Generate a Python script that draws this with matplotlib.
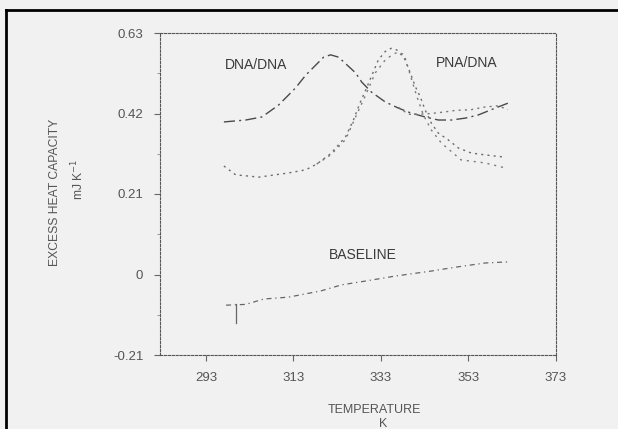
import matplotlib.pyplot as plt
from matplotlib.lines import Line2D

# temperature (K) and excess heat capacity (mJ/K)
DNA_T = [297.1, 302.1, 305.8, 309.6, 313.5, 315.8, 319.9, 321.5, 323.3, 327.2,
         328.6, 330.8, 334.0, 337.0, 339.9, 343.1, 346.1, 349.1, 352.3, 355.2,
         359.1, 362.7]
DNA_CP = [0.398, 0.403, 0.411, 0.442, 0.487, 0.520, 0.567, 0.573, 0.567, 0.526,
          0.502, 0.476, 0.450, 0.434, 0.421, 0.411, 0.403, 0.403, 0.408, 0.416,
          0.434, 0.450]

PNA_A_T = [297.1, 299.8, 305.1, 311.9, 315.8, 318.3, 321.5, 324.9, 326.7, 328.3,
           329.5, 332.4, 334.0, 335.3, 336.6, 338.3, 339.7, 340.9, 342.0, 343.1,
           344.5, 346.1, 348.4, 350.7, 353.6, 356.8, 361.4]
PNA_A_CP = [0.283, 0.260, 0.254, 0.265, 0.273, 0.288, 0.315, 0.359, 0.403, 0.450,
            0.481, 0.560, 0.582, 0.590, 0.586, 0.565, 0.526, 0.489, 0.463, 0.429,
            0.395, 0.369, 0.351, 0.330, 0.317, 0.312, 0.306]

PNA_B_T = [318.3, 321.5, 324.9, 327.4, 329.5, 331.7, 334.0, 335.8, 336.9, 338.3,
           339.7, 341.1, 342.7, 344.5, 346.8, 351.3, 356.8, 361.4]
PNA_B_CP = [0.288, 0.312, 0.352, 0.416, 0.468, 0.526, 0.560, 0.575, 0.580, 0.574,
            0.520, 0.468, 0.416, 0.377, 0.343, 0.299, 0.291, 0.278]

TAIL_T = [337.0, 339.3, 341.5, 344.5, 347.5, 350.0, 353.6, 356.8, 359.8, 362.0]
TAIL_CP = [0.436, 0.418, 0.418, 0.420, 0.424, 0.428, 0.430, 0.437, 0.440, 0.430]

BASE_T = [297.6, 302.1, 306.2, 311.9, 319.2, 324.0, 329.5, 336.3, 344.5, 350.0,
          356.8, 362.1]
BASE_CP = [-0.080, -0.078, -0.064, -0.059, -0.043, -0.027, -0.017, -0.004, 0.009,
           0.019, 0.030, 0.033]

BAR_T = [299.8, 299.8]
BAR_CP = [-0.078, -0.127]

X_TICKS = [293, 313, 333, 353, 373]
Y_TICKS = [-0.21, 0, 0.21, 0.42, 0.63]
Y_TICK_LABELS = ["-0.21", "0", "0.21", "0.42", "0.63"]
Y_MINOR = [-0.105, 0.105, 0.315, 0.525]

BG = "#f1f1f1"
INK = "#3a3a3a"
SOFT = "#555555"

plt.rcParams["font.family"] = ["Liberation Sans", "DejaVu Sans"]

fig = plt.figure(figsize=(6.18, 4.29), dpi=100, facecolor=BG)
ax = fig.add_axes([160 / 618, 1 - 355 / 429, 396 / 618, 322 / 429])
ax.set_facecolor(BG)

ax.plot(DNA_T, DNA_CP, color="#4a4a4a", lw=1.0, ls=(0, (8, 3, 1.5, 3)))
ax.plot(PNA_A_T, PNA_A_CP, color="#6a6a6a", lw=1.0, ls=(0, (1.5, 3)))
ax.plot(PNA_B_T, PNA_B_CP, color="#7a7a7a", lw=1.0, ls=(0, (1.5, 3.5)))
ax.plot(TAIL_T, TAIL_CP, color="#777777", lw=1.0, ls=(0, (1.5, 3)))
ax.plot(BASE_T, BASE_CP, color="#666666", lw=0.9, ls=(0, (4, 3, 1, 3)))
ax.plot(BAR_T, BAR_CP, color="#666666", lw=0.9)

ax.text(304.5, 0.546, "DNA/DNA", fontsize=10, color=INK, ha="center", va="center")
ax.text(352.5, 0.552, "PNA/DNA", fontsize=10, color=INK, ha="center", va="center")
ax.text(328.8, 0.05, "BASELINE", fontsize=10, color=INK, ha="center", va="center")

ax.set_xlim(282.5, 373)
ax.set_ylim(-0.21, 0.63)
ax.set_xticks(X_TICKS)
ax.set_yticks(Y_TICKS)
ax.set_yticklabels(Y_TICK_LABELS)
ax.set_yticks(Y_MINOR, minor=True)
ax.tick_params(axis="both", which="major", length=4, width=0.8, color="#666666",
               labelsize=9.5, labelcolor=SOFT, pad=8)
ax.tick_params(axis="y", which="minor", length=2, width=0.6, color="#888888")

for spine in ax.spines.values():
    spine.set_linestyle((0, (2, 1.5)))
    spine.set_color("#555555")
    spine.set_linewidth(0.8)

fig.text(55 / 618, 1 - 192 / 429, "EXCESS HEAT CAPACITY", rotation=90,
         fontsize=8.7, color=SOFT, ha="center", va="center")
fig.text(78 / 618, 1 - 179 / 429, "mJ K$^{-1}$", rotation=90,
         fontsize=8.7, color=SOFT, ha="center", va="center")
fig.text(374 / 618, 1 - 410 / 429, "TEMPERATURE", fontsize=9, color=SOFT,
         ha="center", va="center")
fig.text(383 / 618, 1 - 424 / 429, "K", fontsize=9, color=SOFT,
         ha="center", va="center")

# scanned page frame: left and top edges only
fig.add_artist(Line2D([6 / 618, 6 / 618], [0, 1 - 10 / 429],
                      transform=fig.transFigure, color="black", lw=2))
fig.add_artist(Line2D([6 / 618, 1], [1 - 10 / 429, 1 - 10 / 429],
                      transform=fig.transFigure, color="black", lw=2))

fig.savefig("out.png", dpi=100, facecolor=BG)
